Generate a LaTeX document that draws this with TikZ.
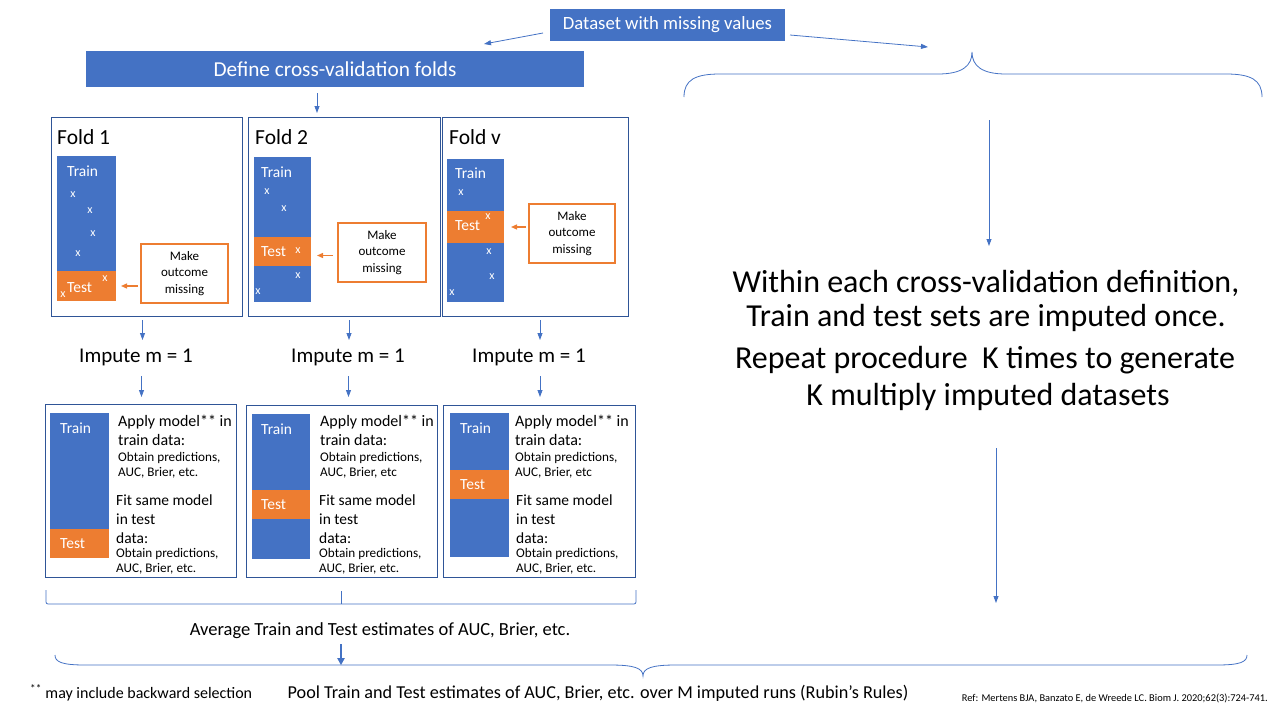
\documentclass[tikz,border=0pt]{standalone}
\usepackage{fontspec}
\setmainfont{Carlito}
\usetikzlibrary{arrows.meta,calc}
\definecolor{cvblue}{HTML}{4472C4}
\definecolor{cvorange}{HTML}{ED7D31}
\definecolor{cvdark}{HTML}{2F5597}
\newcommand{\fsz}[2]{\fontsize{#1}{#2}\selectfont}
\begin{document}
\begin{tikzpicture}[x=1pt,y=-1pt,
  bluebox/.style={fill=cvblue,text=white,inner sep=0pt,outer sep=0pt,anchor=north west},
  frame/.style={draw=cvdark,line width=0.9pt,inner sep=0pt,outer sep=0pt,anchor=north west},
  bar/.style={fill=cvblue,inner sep=0pt,outer sep=0pt,anchor=north west},
  tbar/.style={fill=cvorange,inner sep=0pt,outer sep=0pt,anchor=north west},
  missbox/.style={draw=cvorange,line width=2pt,fill=white,inner sep=0pt,anchor=north west,align=center,font=\fsz{13}{16.5}},
  barlabel/.style={text=white,anchor=west,inner sep=0pt,font=\fsz{15.5}{17}},
  xmark/.style={text=white,inner sep=0pt,font=\fsz{12}{13}},
  arr/.style={draw=cvblue,line width=0.8pt,-{Triangle[length=7pt,width=5pt]}},
  oarr/.style={draw=cvorange,line width=1.3pt,-{Triangle[length=6pt,width=5pt]}},
  brace/.style={draw=cvblue,line width=0.8pt},
  txt/.style={inner sep=0pt,text=black}]
\useasboundingbox (0,0) rectangle (1280,720);

% top boxes
\node[bluebox,minimum width=235pt,minimum height=32pt,font=\fsz{18.7}{21}] (data) at (550,9) {Dataset with missing values};
\node[bluebox,minimum width=498pt,minimum height=36pt,font=\fsz{21.3}{24}] (def) at (86,51) {Define cross-validation folds};
\coordinate (dl) at (484,44);
\coordinate (dr) at (928,47);
\draw[arr] ($(data.west)+(-7,8)$) -- (dl);
\draw[arr] ($(data.east)+(5,10)$) -- (dr);

% fold frames
\node[frame,minimum width=191pt,minimum height=199pt] (f1) at (51,117) {};
\node[frame,minimum width=192pt,minimum height=199pt] (f2) at (248,117) {};
\node[frame,minimum width=186pt,minimum height=199pt] (f3) at (442,117) {};
\draw[arr] ($(def.south)+(-18,6)$) -- ($(f2.north)+(-27,-4)$);
\node[txt,anchor=west,font=\fsz{21.5}{24}] (fl1) at (57,137) {Fold 1};
\node[txt,anchor=west,font=\fsz{21.5}{24}] (fl2) at (255,137) {Fold 2};
\node[txt,anchor=west,font=\fsz{21.5}{24}] (fl3) at (449,137) {Fold v};

% fold 1
\node[bar,minimum width=59pt,minimum height=145pt] (tr1) at (57,156) {};
\node[tbar,minimum width=59pt,minimum height=30pt] (te1) at (57,271) {};
\node[barlabel] (trl1) at (67,171) {Train};
\node[barlabel] (tel1) at (67,288) {Test};
\node[xmark] (x11) at (73,195) {x};
\node[xmark] (x12) at (90,211) {x};
\node[xmark] (x13) at (93,234) {x};
\node[xmark] (x14) at (78,254) {x};
\node[xmark] (x15) at (105,279) {x};
\node[xmark] (x16) at (63,295) {x};
\node[missbox,minimum width=87pt,minimum height=59pt] (m1) at (140,243) {Make\\outcome\\missing};
\draw[oarr] ($(m1.west |- te1.east)+(-2,0)$) -- ($(te1.east)+(5,0)$);

% fold 2
\node[bar,minimum width=57pt,minimum height=145pt] (tr2) at (254,157) {};
\node[tbar,minimum width=57pt,minimum height=29pt] (te2) at (254,237) {};
\node[barlabel] (trl2) at (261,172) {Train};
\node[barlabel] (tel2) at (261,252) {Test};
\node[xmark] (x21) at (267,192) {x};
\node[xmark] (x22) at (284,209) {x};
\node[xmark] (x23) at (298,251) {x};
\node[xmark] (x24) at (298,276) {x};
\node[xmark] (x25) at (258,292) {x};
\node[missbox,minimum width=88pt,minimum height=59pt] (m2) at (337,222) {Make\\outcome\\missing};
\draw[oarr] ($(m2.west |- te2.east)+(-4,4)$) -- ($(te2.east)+(6,4)$);

% fold v
\node[bar,minimum width=57pt,minimum height=143pt] (tr3) at (447,159) {};
\node[tbar,minimum width=57pt,minimum height=32pt] (te3) at (447,211) {};
\node[barlabel] (trl3) at (455,173) {Train};
\node[barlabel] (tel3) at (455,226) {Test};
\node[xmark] (x31) at (461,193) {x};
\node[xmark] (x32) at (488,217) {x};
\node[xmark] (x33) at (489,252) {x};
\node[xmark] (x34) at (492,277) {x};
\node[xmark] (x35) at (452,293) {x};
\node[missbox,minimum width=86pt,minimum height=59pt] (m3) at (528,203) {Make\\outcome\\missing};
\draw[oarr] ($(m3.west |- te3.east)+(-2,0)$) -- ($(te3.east)+(7,0)$);

% impute
\node[txt,font=\fsz{21}{24}] (imp1) at (136,357) {Impute m = 1};
\node[txt,font=\fsz{21}{24}] (imp2) at (348,357) {Impute m = 1};
\node[txt,font=\fsz{21}{24}] (imp3) at (529,357) {Impute m = 1};
\draw[arr] ($(f1.south)+(-4,4)$) -- ($(f1.south)+(-4,24)$);
\draw[arr] ($(f2.south)+(5,4)$) -- ($(f2.south)+(5,24)$);
\draw[arr] ($(f3.south)+(5,4)$) -- ($(f3.south)+(5,24)$);

% lower frames
\node[frame,minimum width=191pt,minimum height=173pt] (b1) at (45,404) {};
\node[frame,minimum width=191pt,minimum height=172pt] (b2) at (246,405) {};
\node[frame,minimum width=192pt,minimum height=172pt] (b3) at (443,405) {};
\draw[arr] ($(b1.north)+(1,-28)$) -- ($(b1.north)+(1,-7)$);
\draw[arr] ($(b2.north)+(7,-29)$) -- ($(b2.north)+(7,-8)$);
\draw[arr] ($(b3.north)+(1,-29)$) -- ($(b3.north)+(1,-8)$);

\node[bar,minimum width=59pt,minimum height=145pt] (br1) at (50,413) {};
\node[tbar,minimum width=59pt,minimum height=29pt] (bt1) at (50,529) {};
\node[barlabel] (brl1) at (60,428) {Train};
\node[barlabel] (btl1) at (60,544) {Test};
\node[bar,minimum width=58pt,minimum height=145pt] (br2) at (252,414) {};
\node[tbar,minimum width=58pt,minimum height=29pt] (bt2) at (252,490) {};
\node[barlabel] (brl2) at (261,429) {Train};
\node[barlabel] (btl2) at (261,505) {Test};
\node[bar,minimum width=59pt,minimum height=144pt] (br3) at (450,413) {};
\node[tbar,minimum width=59pt,minimum height=29pt] (bt3) at (450,470) {};
\node[barlabel] (brl3) at (460,428) {Train};
\node[barlabel] (btl3) at (460,485) {Test};

\foreach \n/\tx/\ty/\ea in {1/118/116/{.},2/320/319/{},3/515/516/{}} {
  \node[txt,anchor=west,font=\fsz{16}{18}] (ap\n) at (\tx,422) {Apply model** in};
  \node[txt,anchor=west,font=\fsz{16}{18}] (td\n) at (\tx,440) {train data:};
  \node[txt,anchor=west,font=\fsz{13.2}{15}] (op\n) at (\tx,458) {Obtain predictions,};
  \node[txt,anchor=west,font=\fsz{13.2}{15}] (au\n) at (\tx,473) {AUC, Brier, etc\ea};
  \node[txt,anchor=west,font=\fsz{15.5}{18}] (fs\n) at (\ty,500) {Fit same model};
  \node[txt,anchor=west,font=\fsz{15.5}{18}] (it\n) at (\ty,519) {in test};
  \node[txt,anchor=west,font=\fsz{15.5}{18}] (da\n) at (\ty,538) {data:};
  \node[txt,anchor=west,font=\fsz{13.2}{15}] (oq\n) at (\ty,554) {Obtain predictions,};
  \node[txt,anchor=west,font=\fsz{13.2}{15}] (av\n) at (\ty,569) {AUC, Brier, etc.};
}

% small bracket under lower frames
\draw[brace,rounded corners=2pt] (46,590) -- (46,604) -- (636,604) -- (636,590);
\draw[brace] (341,604) -- (341,591);
\node[txt,font=\fsz{18.5}{21}] (avg) at (380,631) {Average Train and Test estimates of AUC, Brier, etc.};
\draw[draw=cvblue,line width=2.2pt,-{Triangle[length=7pt,width=7pt]}] ($(avg.south)+(-39,5)$) -- ($(avg.south)+(-39,26)$);

% bottom brace
\draw[brace] (55,655) .. controls (55,662) and (62,665) .. (85,665) -- (610,665)
  .. controls (634,665) and (643,668) .. (643,676)
  .. controls (643,668) and (652,665) .. (676,665) -- (1217,665)
  .. controls (1240,665) and (1247,662) .. (1247,655);

\node[txt,anchor=west,font=\fsz{16}{18}] (note) at (30,693) {\textsuperscript{**} may include backward selection};
\node[txt,font=\fsz{18.2}{21}] (pool) at (598,693) {Pool Train and Test estimates of AUC, Brier, etc. over M imputed runs (Rubin’s Rules)};
\node[txt,anchor=east,font=\fsz{10.4}{12}] (ref) at (1268,698) {Ref: Mertens BJA, Banzato E, de Wreede LC. Biom J. 2020;62(3):724-741.};

% top brace (right)
\draw[brace] (684,97) .. controls (684,80) and (695,74) .. (720,74) -- (938,74)
  .. controls (962,74) and (972,66) .. (972,52)
  .. controls (972,66) and (982,74) .. (1006,74) -- (1226,74)
  .. controls (1251,74) and (1262,80) .. (1262,97);

\coordinate (ra1) at (989,120);
\coordinate (ra2) at (989,246);
\draw[arr] (ra1) -- (ra2);
\node[txt,font=\fsz{32}{36}] (w1) at (986,283) {Within each cross-validation definition,};
\node[txt,font=\fsz{32}{36}] (w2) at (986,318) {Train and test sets are imputed once.};
\node[txt,font=\fsz{32}{36}] (w3) at (985,360) {Repeat procedure\ \ K times to generate};
\node[txt,font=\fsz{32}{36}] (w4) at (988,397) {K multiply imputed datasets};
\coordinate (rb1) at (996,448);
\coordinate (rb2) at (996,603);
\draw[arr] (rb1) -- (rb2);
\end{tikzpicture}
\end{document}
